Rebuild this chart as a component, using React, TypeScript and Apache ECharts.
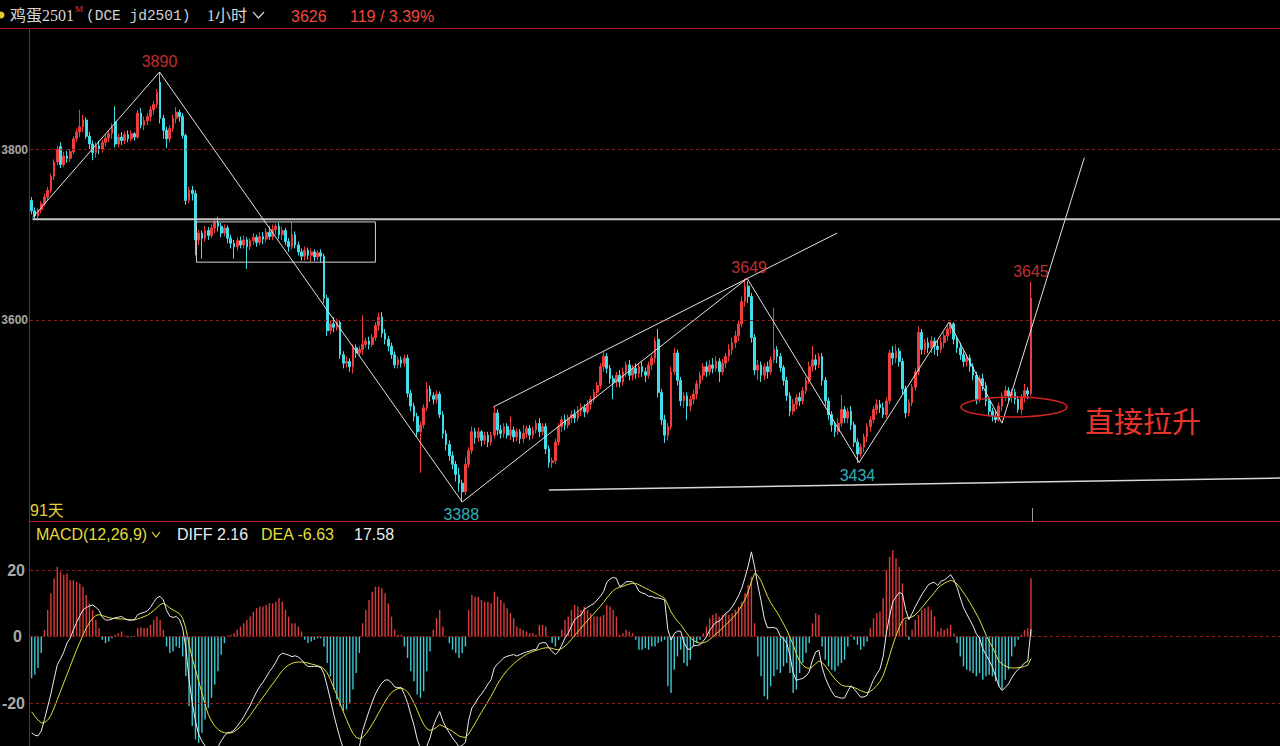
import React, { useEffect, useRef } from "react";
import * as echarts from "echarts";

// ---------- data ----------
// hourly bars: [open, close, low, high]
const CANDLES: number[][] = [
  [3740,3728,3724,3744],[3728,3722,3718,3732],[3722,3729,3719,3731],[3729,3736,3725,3739],[3736,3744,3733,3748],
  [3744,3752,3740,3756],[3752,3768,3749,3771],[3768,3785,3764,3788],[3785,3800,3781,3804],[3803,3782,3778,3808],
  [3782,3792,3779,3797],[3792,3789,3784,3798],[3789,3797,3785,3800],[3797,3812,3794,3815],[3812,3820,3808,3824],
  [3820,3826,3814,3846],[3826,3834,3820,3840],[3834,3815,3812,3837],[3815,3806,3800,3820],[3806,3796,3787,3810],
  [3796,3804,3790,3808],[3804,3800,3794,3810],[3800,3808,3796,3811],[3808,3813,3803,3817],[3813,3818,3808,3822],
  [3818,3826,3812,3830],[3832,3806,3802,3850],[3806,3814,3802,3818],[3814,3810,3805,3820],[3810,3817,3806,3821],
  [3817,3812,3808,3822],[3812,3818,3809,3822],[3818,3814,3810,3820],[3814,3842,3812,3846],[3842,3828,3824,3848],
  [3828,3833,3822,3838],[3833,3838,3828,3842],[3838,3846,3832,3850],[3846,3852,3840,3856],[3852,3866,3848,3870],
  [3878,3836,3830,3890],[3836,3822,3812,3840],[3822,3812,3801,3826],[3812,3824,3808,3828],[3824,3836,3820,3840],
  [3836,3843,3830,3849],[3843,3838,3832,3846],[3838,3816,3812,3842],[3816,3740,3735,3818],[3740,3752,3737,3756],
  [3752,3748,3740,3757],[3748,3694,3676,3752],[3694,3702,3688,3706],[3702,3696,3672,3705],[3696,3705,3692,3710],
  [3705,3699,3694,3709],[3699,3708,3696,3712],[3708,3714,3702,3718],[3714,3710,3704,3721],[3710,3702,3697,3714],
  [3702,3708,3698,3712],[3708,3696,3690,3711],[3696,3690,3684,3700],[3690,3686,3672,3694],[3686,3693,3682,3697],
  [3693,3688,3684,3698],[3688,3694,3684,3699],[3694,3686,3660,3697],[3686,3693,3682,3696],[3693,3697,3688,3702],
  [3697,3691,3686,3700],[3691,3698,3688,3703],[3698,3695,3689,3703],[3695,3703,3691,3708],[3703,3698,3694,3710],
  [3698,3706,3694,3712],[3706,3710,3700,3713],[3710,3700,3695,3714],[3700,3705,3694,3709],[3705,3692,3688,3708],
  [3692,3686,3680,3696],[3686,3700,3683,3715],[3700,3688,3684,3704],[3688,3680,3676,3692],[3680,3675,3670,3684],
  [3675,3682,3670,3686],[3682,3676,3671,3685],[3676,3680,3668,3684],[3680,3674,3669,3683],[3674,3679,3670,3682],
  [3679,3675,3668,3683],[3675,3626,3620,3678],[3626,3588,3582,3630],[3588,3596,3584,3600],[3596,3592,3586,3604],
  [3592,3598,3588,3602],[3598,3560,3555,3600],[3560,3550,3544,3564],[3550,3552,3545,3558],[3552,3546,3540,3556],
  [3546,3568,3538,3572],[3568,3562,3556,3572],[3562,3566,3558,3570],[3566,3572,3560,3606],[3572,3576,3568,3580],
  [3576,3572,3566,3581],[3572,3580,3569,3584],[3580,3594,3576,3598],[3594,3604,3588,3609],[3604,3585,3580,3610],
  [3585,3578,3572,3590],[3578,3570,3564,3582],[3570,3560,3555,3574],[3560,3548,3544,3564],[3548,3554,3544,3558],
  [3554,3550,3545,3558],[3550,3556,3546,3560],[3556,3515,3510,3560],[3515,3500,3494,3519],[3500,3488,3482,3504],
  [3488,3470,3464,3492],[3470,3478,3422,3482],[3478,3498,3474,3502],[3498,3520,3494,3528],[3520,3512,3505,3524],
  [3512,3508,3502,3516],[3508,3514,3503,3518],[3514,3490,3486,3517],[3490,3468,3462,3494],[3468,3455,3448,3472],
  [3455,3442,3436,3460],[3442,3432,3426,3447],[3432,3420,3412,3436],[3420,3410,3400,3428],[3410,3400,3388,3414],
  [3400,3432,3396,3440],[3432,3448,3428,3452],[3448,3470,3444,3476],[3470,3463,3456,3474],[3463,3470,3458,3475],
  [3470,3460,3453,3472],[3460,3466,3455,3470],[3466,3458,3452,3470],[3458,3466,3454,3470],[3466,3492,3462,3499],
  [3492,3472,3466,3496],[3472,3468,3462,3478],[3468,3476,3463,3480],[3476,3466,3462,3480],[3466,3472,3460,3488],
  [3472,3464,3458,3476],[3464,3470,3459,3474],[3470,3462,3456,3473],[3462,3468,3457,3478],[3468,3474,3463,3477],
  [3474,3466,3460,3478],[3466,3472,3462,3476],[3472,3480,3468,3484],[3480,3470,3464,3486],[3470,3476,3466,3480],
  [3476,3450,3444,3480],[3450,3434,3428,3454],[3434,3436,3428,3440],[3436,3458,3432,3462],[3458,3476,3454,3480],
  [3476,3484,3470,3488],[3484,3478,3472,3490],[3478,3486,3474,3490],[3486,3490,3480,3495],[3490,3486,3480,3496],
  [3486,3494,3482,3500],[3494,3498,3488,3503],[3498,3493,3487,3502],[3493,3502,3490,3507],[3502,3508,3496,3512],
  [3508,3516,3504,3520],[3516,3524,3510,3528],[3524,3546,3520,3550],[3546,3558,3540,3564],[3558,3544,3538,3562],
  [3544,3532,3526,3548],[3532,3528,3508,3536],[3528,3536,3522,3540],[3536,3528,3522,3542],[3528,3540,3524,3545],
  [3540,3548,3534,3552],[3548,3536,3530,3554],[3536,3544,3530,3548],[3544,3538,3532,3550],[3538,3546,3533,3550],
  [3546,3540,3534,3552],[3540,3536,3528,3545],[3536,3548,3532,3552],[3548,3556,3542,3560],[3556,3576,3550,3580],
  [3578,3516,3510,3590],[3516,3484,3478,3520],[3484,3466,3457,3490],[3466,3476,3460,3480],[3476,3540,3472,3546],
  [3540,3562,3536,3568],[3562,3530,3524,3566],[3530,3506,3500,3534],[3506,3512,3498,3516],[3512,3500,3484,3516],
  [3500,3508,3494,3512],[3508,3514,3502,3519],[3514,3526,3508,3530],[3526,3536,3520,3540],[3536,3546,3530,3550],
  [3546,3540,3534,3552],[3540,3548,3536,3554],[3548,3544,3538,3556],[3544,3552,3540,3558],[3552,3540,3528,3556],
  [3540,3550,3536,3555],[3550,3558,3544,3562],[3558,3566,3552,3572],[3566,3574,3560,3580],[3574,3582,3568,3588],
  [3582,3596,3576,3600],[3596,3622,3592,3628],[3622,3640,3616,3649],[3640,3628,3620,3646],[3628,3580,3574,3632],
  [3580,3542,3536,3584],[3542,3548,3530,3554],[3548,3536,3528,3552],[3536,3546,3530,3550],[3546,3540,3532,3552],
  [3540,3554,3536,3558],[3554,3566,3550,3615],[3566,3558,3550,3570],[3558,3545,3540,3562],[3545,3530,3524,3548],
  [3530,3512,3506,3534],[3512,3494,3488,3516],[3494,3502,3490,3508],[3502,3510,3496,3514],[3510,3506,3500,3516],
  [3506,3518,3502,3522],[3518,3530,3514,3534],[3530,3546,3526,3552],[3546,3554,3540,3570],[3554,3548,3542,3560],
  [3548,3558,3544,3562],[3558,3530,3524,3562],[3530,3506,3500,3534],[3506,3490,3484,3510],[3490,3478,3470,3494],
  [3478,3470,3464,3482],[3470,3480,3466,3486],[3480,3496,3476,3513],[3496,3486,3480,3500],[3486,3494,3480,3498],
  [3494,3478,3472,3500],[3478,3458,3452,3482],[3458,3444,3434,3462],[3444,3452,3440,3456],[3452,3464,3446,3468],
  [3464,3476,3458,3480],[3476,3484,3470,3488],[3484,3496,3480,3500],[3496,3502,3490,3508],[3502,3498,3492,3507],
  [3498,3490,3486,3504],[3490,3506,3486,3510],[3506,3562,3502,3566],[3562,3556,3548,3570],[3556,3564,3550,3572],
  [3564,3552,3546,3568],[3552,3520,3514,3556],[3520,3492,3486,3524],[3492,3504,3488,3508],[3504,3522,3500,3526],
  [3522,3540,3518,3544],[3540,3586,3536,3593],[3586,3566,3560,3590],[3566,3574,3560,3578],[3574,3568,3562,3580],
  [3568,3576,3562,3582],[3576,3570,3560,3580],[3570,3566,3558,3576],[3566,3574,3562,3580],[3574,3582,3568,3586],
  [3582,3590,3576,3594],[3590,3596,3584,3598],[3596,3578,3572,3598],[3578,3568,3562,3582],[3568,3560,3554,3574],
  [3560,3552,3546,3564],[3552,3556,3546,3560],[3556,3546,3540,3560],[3546,3536,3530,3550],[3536,3508,3502,3540],
  [3508,3532,3504,3536],[3532,3524,3518,3538],[3524,3506,3500,3528],[3506,3494,3488,3510],[3494,3488,3482,3498],
  [3488,3484,3480,3494],[3484,3500,3482,3504],[3500,3512,3494,3516],[3512,3518,3506,3524],[3518,3512,3506,3522],
  [3512,3516,3504,3520],[3516,3508,3502,3520],[3508,3496,3492,3512],[3496,3510,3490,3514],[3510,3518,3504,3526],
  [3518,3514,3508,3522],[3515,3626,3512,3645],
];

// MACD histogram (2 x (DIFF - DEA)) per bar
const MACD_HIST: number[] = [
  -12.6,-11.5,-9.5,-5,2,8,13,17.5,21,19.5,
  18.6,19,17,17,16.5,16,15,12.5,10,8,
  5,2.5,-1,-2,-1.5,-0.5,0.5,1,1.5,0.3,
  -0.3,-0.2,0.2,2.5,2.8,2.5,2.6,3.5,5,6,
  5,2,-3,-5,-4.5,-3,-3.5,-6,-12,-21,
  -27,-31,-32,-29,-25,-21.5,-18.5,-14.5,-10.5,-5.5,
  -2,0.3,0.5,1,2,3,4,5,6,7.5,
  8.5,9,9,9.5,10,10,10.5,11.5,10.5,8,
  6,4,4,3,1.5,-1,-2,-1.5,-1,-0.5,
  -0.5,-3,-8,-12,-16,-19,-21,-22.5,-22,-20,
  -16,-11,-5,4,8,11,13.5,15,15,14.5,
  13,10,6,2,0.5,0.5,-3,-6.5,-10.5,-13.5,
  -17.5,-18.5,-16.5,-10.5,-4.5,2,5.5,8,3,0,
  -2,-4,-5,-6.5,-5,-3,8,12.5,12,12,
  11,10.5,10.5,10,13.5,12,11,10,8.5,7,
  5.5,3,2.5,2,1.5,1,1,0.5,3.5,3.5,
  3,0,-2,-3,-1,2,5,6,8,9.5,
  9,8,9,8,7,6,6,6,6.5,9.5,
  9,8,6,0.5,1,2,1.5,1,-1,-4,
  -4,-3.5,-4,-3,-3,-2,-1.5,-1,-15,-17,
  -10,-6,-4,-8,-9,-7,-3,-2,-1,1,
  3,5.5,6.5,7,6,6.5,7,6.5,7,8,
  9,10.5,13,15.5,18,4,-6,-12,-18,-19,
  -15,-12,-10,-11,-9,-8,-11,-17,-16,-11,
  -8,-5,-2,4,7,6.5,-3,-7,-9,-10,
  -10.5,-9,-8,-7,-3,0.5,-1,-2.5,-4,-3,
  -1.5,2.5,5.5,7,7.5,11.5,20,24,26,23.5,
  21,16,5,-1,2,5,6.5,8,8.5,9,
  8,6,1.5,2.5,2,2.5,3.5,1,-2,-6,
  -9,-10,-10.5,-11,-12,-11,-13,-12,-11.5,-12,
  -13.5,-15,-16,-13,-10,-6,-3,-1,0.5,2,
  2.5,17.58,
];

// DEA (signal line) per bar
const DEA: number[] = [
  -22.7,-24,-25.2,-26,-26,-25.2,-23.8,-21.5,-19,-16.5,
  -14,-11.5,-9,-6.5,-4,-1.8,0.5,2.5,4.2,5.5,
  6.3,6.6,6.3,6,5.7,5.5,5.4,5.3,5.3,5.2,
  5.1,5,5,5.3,5.6,6,6.4,7,7.8,8.7,
  9.6,10,9.4,8.6,8,7.5,6.9,5.5,2.5,-2.5,
  -6.5,-10,-13.5,-17,-20.5,-23.5,-25.5,-27,-28,-28.7,
  -29,-29.1,-29.1,-28.7,-28,-27.2,-26.2,-25,-23.8,-22.4,
  -21,-19.6,-18.3,-17,-15.6,-14.3,-13,-11.6,-10.3,-9.3,
  -8.6,-8.1,-7.8,-7.7,-7.7,-7.8,-8,-8.3,-8.5,-8.8,
  -9.1,-9.8,-11,-13,-15.4,-17.7,-20.2,-22.7,-25,-27.3,
  -29.2,-30.4,-30.8,-30.4,-29.4,-28,-26.5,-24.8,-23,-21.3,
  -19.6,-18.1,-16.9,-16.2,-15.7,-15.6,-15.9,-16.7,-18.2,-20,
  -22.2,-24.5,-26.5,-27.8,-28.3,-28,-27.4,-26.6,-27,-27.5,
  -28,-28.6,-29.3,-30,-30.3,-30.4,-29.4,-27.8,-26.2,-24.5,
  -22.8,-21.2,-19.6,-18,-16.2,-14.3,-12.8,-11.4,-10.2,-9.2,
  -8.2,-7.4,-6.7,-6,-5.4,-4.9,-4.5,-4.2,-3.9,-3.6,
  -3.4,-3.4,-3.6,-3.9,-4,-3.6,-2.9,-2,-0.9,0.3,
  1.4,2.5,3.7,4.8,5.9,6.9,8,9.1,10.3,11.6,
  12.8,13.8,14.5,14.8,15.1,15.5,15.8,16,16,15.6,
  15.1,14.6,14.1,13.6,13.1,12.6,12.1,11.5,9.6,7.4,
  5.9,4.6,3.6,2.2,0.8,-0.4,-1.2,-1.7,-2,-1.9,
  -1.6,-0.9,-0.1,0.8,1.6,2.5,3.5,4.4,5.4,6.5,
  7.8,9.3,11.2,13.5,16.5,19,18.4,16.8,14.5,12.1,
  10.2,8.7,7.3,5.6,3.8,2,-0.2,-2.5,-5.2,-7.4,
  -8.6,-9.4,-9.6,-9.1,-8.2,-7.4,-7.8,-8.9,-10.2,-11.6,
  -12.8,-13.8,-14.6,-15,-15,-15.1,-15.4,-15.8,-16.3,-16.7,
  -17,-16.6,-15.8,-14.8,-13.6,-11.8,-9,-5.8,-2.6,0.2,
  2.8,4.8,5.6,5.6,5.9,6.5,7.5,8.6,9.8,11,
  12.1,13.3,14.6,15.4,16,16.5,16.9,16.6,15.8,14.6,
  13.2,11.8,10.2,8.6,6.8,5,2.8,0.5,-1.5,-3.2,
  -5.3,-7.4,-8.3,-8.9,-9.3,-9.5,-9.5,-9.4,-9.3,-9,
  -8.7,-6.63,
];

// slots on the time axis (right part is empty future space)
const TOTAL_SLOTS = 389;

// hand-drawn study lines: [bar index, price]
const ZIGZAG: number[][] = [
  [0.3, 3720], [39.8, 3890], [134, 3388], [222.7, 3649], [257.5, 3434],
  [285.5, 3598], [302, 3480], [327.6, 3790],
];
const CHANNEL_TOP: number[][] = [[143.7, 3499], [250.7, 3702]];
const SUPPORT_LINE: number[][] = [[161, 3402], [388.5, 3416]];
const NECK_LINE: number[][] = [[0.3, 3718], [388.5, 3718]];
const BOX: number[][] = [[51.3, 3715], [107, 3715], [107, 3668], [51.3, 3668], [51.3, 3715]];

// swing labels: [bar index, price, below?]
const SWINGS: [number, number, boolean][] = [
  [39.8, 3890, false], [133.7, 3388, true], [223.3, 3649, false], [257, 3434, true], [311, 3645, false],
];

const PRICE_GRID = [3800, 3600];
const MACD_GRID = [20, 0, -20];

const LAST_PRICE = 3626;
const CHANGE = 119;
const CHANGE_PCT = 3.39;

const UP = "#ef3d3d";
const DOWN = "#43dde8";
const SANS = '"Liberation Sans", Arial, "Noto Sans CJK SC", sans-serif';

export default function App() {
  const ref = useRef<HTMLDivElement>(null);

  useEffect(() => {
    if (!ref.current) return;
    const chart = echarts.init(ref.current, undefined, { renderer: "svg" });

    const cats = Array.from({ length: TOTAL_SLOTS }, (_, i) => String(i));
    const diff = DEA.map((d, i) => +(d + MACD_HIST[i] / 2).toFixed(2));
    const lastDiff = diff[diff.length - 1];
    const lastDea = DEA[DEA.length - 1];
    const lastHist = MACD_HIST[MACD_HIST.length - 1];

    const hiddenCat = (grid: number) => ({
      type: "category" as const,
      gridIndex: grid,
      data: cats,
      boundaryGap: true,
      axisLine: { show: false },
      axisTick: { show: false },
      axisLabel: { show: false },
      splitLine: { show: false },
    });

    const overlayLine = (data: number[][], color: string, width: number) => ({
      type: "line",
      xAxisIndex: 2,
      yAxisIndex: 0,
      data,
      symbol: "none",
      silent: true,
      z: 5,
      lineStyle: { color, width },
    });

    const txt = (
      x: number, y: number, text: string, fill: string, size: number,
      align = "left", family = SANS, weight = "normal"
    ) => ({
      type: "text",
      x, y, silent: true, z: 10,
      style: {
        text, fill,
        font: `${weight} ${size}px ${family}`,
        align, verticalAlign: "middle",
        textAlign: align, textVerticalAlign: "middle",
      },
    });

    const option: any = {
      animation: false,
      backgroundColor: "#000000",
      grid: [
        { left: 30, top: 28, width: 1250, height: 493 },
        { left: 30, top: 521, width: 1250, height: 225 },
      ],
      xAxis: [
        hiddenCat(0),
        hiddenCat(1),
        { type: "value", gridIndex: 0, min: -0.5, max: TOTAL_SLOTS - 0.5, show: false },
      ],
      yAxis: [
        { type: "value", gridIndex: 0, min: 3365.8, max: 3941.4, show: false, splitLine: { show: false } },
        { type: "value", gridIndex: 1, min: -33, max: 34.8, show: false, splitLine: { show: false } },
      ],
      series: [
        {
          type: "candlestick",
          xAxisIndex: 0,
          yAxisIndex: 0,
          data: CANDLES,
          barWidth: 2.2,
          z: 3,
          itemStyle: { color: UP, color0: DOWN, borderColor: UP, borderColor0: DOWN, borderWidth: 1 },
          markLine: {
            silent: true,
            symbol: ["none", "none"],
            label: { show: false },
            lineStyle: { color: "#8c1d1d", type: [3, 3], width: 1 },
            data: PRICE_GRID.map((v) => ({ yAxis: v })),
          },
        },
        overlayLine(NECK_LINE, "#c4c4c4", 2),
        overlayLine(BOX, "#d2d2d2", 1),
        overlayLine(ZIGZAG, "#e2e2e2", 1),
        overlayLine(CHANNEL_TOP, "#e2e2e2", 1),
        overlayLine(SUPPORT_LINE, "#d6d6d6", 1.5),
        {
          type: "scatter",
          xAxisIndex: 2,
          yAxisIndex: 0,
          symbolSize: 1,
          silent: true,
          z: 6,
          itemStyle: { color: "rgba(0,0,0,0)" },
          data: SWINGS.map(([x, p, below]) => ({
            value: [x, p],
            label: {
              show: true,
              position: below ? "bottom" : "top",
              distance: below ? 4 : 2,
              color: below ? DOWN : UP,
              fontSize: 16,
              fontFamily: SANS,
              formatter: String(p),
            },
          })),
        },
        {
          type: "bar",
          xAxisIndex: 1,
          yAxisIndex: 1,
          data: MACD_HIST,
          barWidth: 1.4,
          silent: true,
          itemStyle: { color: (p: any) => (p.value >= 0 ? "#dc3c3c" : "#3fc8d2") },
          markLine: {
            silent: true,
            symbol: ["none", "none"],
            label: { show: false },
            lineStyle: { color: "#8c1d1d", type: [3, 3], width: 1 },
            data: MACD_GRID.map((v) => ({ yAxis: v })),
          },
        },
        {
          type: "line",
          xAxisIndex: 1,
          yAxisIndex: 1,
          data: DEA,
          symbol: "none",
          silent: true,
          z: 4,
          lineStyle: { color: "#e2dc3c", width: 1 },
        },
        {
          type: "line",
          xAxisIndex: 1,
          yAxisIndex: 1,
          data: diff,
          symbol: "none",
          silent: true,
          z: 5,
          lineStyle: { color: "#ececec", width: 1 },
        },
      ],
      graphic: [
        // frame lines
        { type: "line", silent: true, z: 1, shape: { x1: 0, y1: 28.5, x2: 1280, y2: 28.5 }, style: { stroke: "#b01c1c", lineWidth: 1 } },
        { type: "line", silent: true, z: 1, shape: { x1: 29.5, y1: 28, x2: 29.5, y2: 746 }, style: { stroke: "#a01818", lineWidth: 1 } },
        { type: "line", silent: true, z: 1, shape: { x1: 29, y1: 521.5, x2: 1280, y2: 521.5 }, style: { stroke: "#b01c1c", lineWidth: 1 } },
        { type: "line", silent: true, z: 1, shape: { x1: 1032.5, y1: 508, x2: 1032.5, y2: 522 }, style: { stroke: "#9a9a9a", lineWidth: 1 } },
        // header
        { type: "circle", silent: true, shape: { cx: 1, cy: 15, r: 3.5 }, style: { fill: "#e8c830" } },
        txt(10, 15, "鸡蛋2501", "#d6d6d6", 16, "left", '"Liberation Serif", "Noto Sans CJK SC", serif'),
        txt(75, 9, "M", "#e03a3a", 9, "left", '"Liberation Serif", serif'),
        txt(86, 16, "(DCE jd2501)", "#d0d0d0", 14.5, "left", '"Liberation Mono", monospace'),
        txt(207, 15, "1小时", "#d6d6d6", 16, "left", '"Liberation Serif", "Noto Sans CJK SC", serif'),
        { type: "polyline", silent: true, shape: { points: [[253, 12], [258.5, 18], [264, 12]] }, style: { stroke: "#d6d6d6", fill: "none", lineWidth: 1.2 } },
        txt(291, 16, String(LAST_PRICE), "#f0463e", 16),
        txt(350, 16, `${CHANGE} / ${CHANGE_PCT.toFixed(2)}%`, "#f0463e", 16),
        // price axis labels (fit in the narrow left gutter)
        txt(28, 150, String(PRICE_GRID[0]), "#a8a8a8", 12, "right", SANS, "bold"),
        txt(28, 320, String(PRICE_GRID[1]), "#a8a8a8", 12, "right", SANS, "bold"),
        txt(30, 510, "91天", "#e2d040", 16),
        // MACD header
        txt(36, 534, "MACD(12,26,9)", "#e2dc3c", 16),
        { type: "polyline", silent: true, shape: { points: [[152, 532], [156, 537], [160, 532]] }, style: { stroke: "#e2dc3c", fill: "none", lineWidth: 1.2 } },
        txt(177, 534, `DIFF ${lastDiff.toFixed(2)}`, "#ececec", 16),
        txt(261, 534, `DEA ${lastDea.toFixed(2)}`, "#e2dc3c", 16),
        txt(354, 534, lastHist.toFixed(2), "#ececec", 16),
        // MACD axis labels
        txt(25, 570, String(MACD_GRID[0]), "#a8a8a8", 16, "right", SANS, "bold"),
        txt(22, 636, String(MACD_GRID[1]), "#a8a8a8", 16, "right", SANS, "bold"),
        txt(25, 703, String(MACD_GRID[2]), "#a8a8a8", 16, "right", SANS, "bold"),
        // annotation
        { type: "ellipse", silent: true, z: 8, shape: { cx: 1014, cy: 407, rx: 53, ry: 10 }, style: { stroke: "#d42222", fill: "none", lineWidth: 1.5 } },
        txt(1085, 420, "直接拉升", "#e8352c", 29, "left", '"Noto Sans CJK SC", sans-serif'),
      ],
    };

    chart.setOption(option);
    return () => chart.dispose();
  }, []);

  return (
    <div
      ref={ref}
      style={{ position: "fixed", left: 0, top: 0, width: 1280, height: 746, background: "#000" }}
    />
  );
}
